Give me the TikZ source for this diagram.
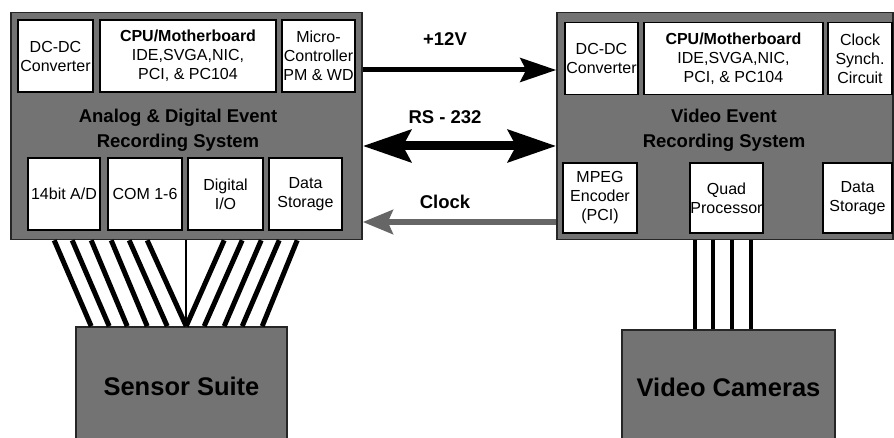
\documentclass[tikz,border=0pt]{standalone}
\usepackage{fontspec}
\setmainfont{Liberation Sans}
\usetikzlibrary{arrows.meta}
\begin{document}
\begin{tikzpicture}[x=1pt,y=-1pt,
    board/.style={draw=black!85,line width=1.6pt,fill=black!55,inner sep=0pt},
    card/.style={draw=black,line width=1.2pt,fill=white,inner sep=0pt,align=center,
      minimum height=72pt,font=\fontsize{16}{19}\selectfont},
    heading/.style={align=center,font=\bfseries\fontsize{18.5}{25}\selectfont},
    tag/.style={font=\bfseries\fontsize{18.5}{20}\selectfont},
    wire/.style={line width=5pt},
    cable/.style={line width=4pt}]
    \useasboundingbox (0,0) rectangle (894,438);
    % analog & digital recorder
    \node[board,minimum width=351pt,minimum height=227pt] (lbox) at (186.5,126) {};
    \node[card,minimum width=75pt] (ldcdc) at (55.5,56) {DC-DC\\Converter};
    \node[card,minimum width=176pt] (lcpu) at (188,56) {\textbf{CPU/Motherboard}\\IDE,SVGA,NIC,\\PCI, \& PC104};
    \node[card,minimum width=73pt] (lmicro) at (318.5,56) {Micro-\\Controller\\PM \& WD};
    \node[heading] (ltitle) at (178,130.5) {Analog \& Digital Event\\Recording System};
    \node[card,minimum width=72pt] (lad) at (64,194) {14bit A/D};
    \node[card,minimum width=74pt] (lcom) at (145,194) {COM 1-6};
    \node[card,minimum width=75pt] (ldio) at (225.5,194) {Digital\\I/O};
    \node[card,minimum width=73pt] (lstore) at (305.5,194) {Data\\Storage};
    % video recorder
    \node[board,minimum width=336pt,minimum height=227pt] (rbox) at (725,126) {};
    \node[card,minimum width=73pt] (rdcdc) at (601.5,58.5) {DC-DC\\Converter};
    \node[card,minimum width=179pt] (rcpu) at (733.5,58.5) {\textbf{CPU/Motherboard}\\IDE,SVGA,NIC,\\PCI, \& PC104};
    \node[card,minimum width=64pt] (rclock) at (860,58.5) {Clock\\Synch.\\Circuit};
    \node[heading] (rtitle) at (724,130.5) {Video Event\\Recording System};
    \node[card,minimum width=74pt,minimum height=70pt] (rmpeg) at (600,198) {MPEG\\Encoder\\(PCI)};
    \node[card,minimum width=73pt,minimum height=70pt] (rquad) at (726.5,198) {Quad\\Processor};
    \node[card,minimum width=69pt,minimum height=70pt] (rstore) at (857.5,198) {Data\\Storage};
    % field units
    \node[board,minimum width=211pt,minimum height=118pt,font=\bfseries\fontsize{25.5}{28}\selectfont] (sensor) at (181.5,386) {Sensor Suite};
    \node[board,minimum width=213pt,minimum height=115pt,font=\bfseries\fontsize{25.5}{28}\selectfont] (cams) at (728.5,387.5) {Video Cameras};
    % links between recorders
    \draw[line width=5pt,-{Stealth[length=36pt,width=24pt,inset=6pt]}] ([yshift=56pt]lbox.east) -- ([yshift=56pt]rbox.west);
    \draw[line width=9pt,{Stealth[length=48pt,width=32pt,inset=8pt]}-{Stealth[length=48pt,width=32pt,inset=8pt]}] ([yshift=-20pt]lbox.east) -- ([yshift=-20pt]rbox.west);
    \draw[black!60,line width=6pt,-{Stealth[length=30pt,width=24pt,inset=5pt]}] ([yshift=-96pt]rbox.west) -- ([yshift=-96pt]lbox.east);
    \node[tag] (vlabel) at (445,39) {+12V};
    \node[tag] (slabel) at (445,117) {RS - 232};
    \node[tag] (clabel) at (445,202) {Clock};
    % sensor wiring
    \foreach \a/\b in {44/16,62/34,81/52,101/72,119/92,137/111,214/111,232/129,251/149,269/167,287/187}
        \draw[wire] ([xshift=\a pt]lbox.south west) -- ([xshift=\b pt]sensor.north west);
    \draw[line width=1.5pt] ([xshift=176pt]lbox.south west) -- ([xshift=111pt]sensor.north west);
    % camera cables
    \foreach \a/\b in {139/74,157/92,176/111,195/130}
        \draw[cable] ([xshift=\a pt]rbox.south west) -- ([xshift=\b pt]cams.north west);
\end{tikzpicture}
\end{document}
